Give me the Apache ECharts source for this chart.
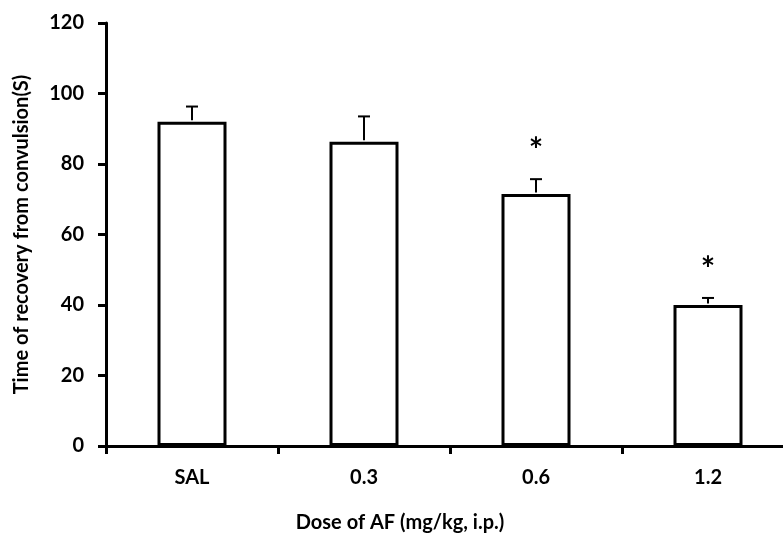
<!DOCTYPE html>
<html>
<head>
<meta charset="utf-8">
<script src="https://cdn.jsdelivr.net/npm/echarts@6/dist/echarts.min.js"></script>
<style>html,body{margin:0;padding:0;background:#fff;overflow:hidden;}#c{width:800px;height:538px;}</style>
</head>
<body>
<div id="c"></div>
<script>
var categories = ['SAL', '0.3', '0.6', '1.2'];
var means = [92.0, 86.3, 71.5, 40.0];
var errors = [4.3, 7.2, 4.2, 2.0];
var signif = ['', '', '*', '*'];
var yTicks = [0, 20, 40, 60, 80, 100, 120];

var FONT = 'Lato';
var chart = echarts.init(document.getElementById('c'), null, {renderer: 'canvas'});
var errData = categories.map(function (c, i) { return [i, means[i], errors[i]]; });

chart.setOption({
  animation: false,
  backgroundColor: '#fff',
  grid: {left: 106, top: 23, right: 6, bottom: 92, containLabel: false},
  xAxis: {
    type: 'category',
    data: categories,
    boundaryGap: true,
    axisLine: {lineStyle: {color: '#000', width: 3}},
    axisTick: {show: true, length: 8, inside: false, lineStyle: {color: '#000', width: 3}},
    axisLabel: {color: '#000', fontFamily: FONT, fontWeight: 'bold', fontSize: 20, margin: 22},
    splitLine: {show: false}
  },
  yAxis: {
    type: 'value',
    min: yTicks[0],
    max: yTicks[yTicks.length - 1],
    interval: yTicks[1] - yTicks[0],
    name: 'Time of recovery from convulsion(S)',
    nameLocation: 'middle',
    nameGap: 74,
    nameTextStyle: {color: '#000', fontFamily: FONT, fontWeight: 'bold', fontSize: 20},
    axisLine: {show: true, lineStyle: {color: '#000', width: 3}},
    axisTick: {show: true, length: 8, inside: false, lineStyle: {color: '#000', width: 3}},
    axisLabel: {color: '#000', fontFamily: FONT, fontWeight: 'bold', fontSize: 20, margin: 22},
    splitLine: {show: false}
  },
  graphic: [{
    type: 'text',
    x: 400, y: 523,
    style: {text: 'Dose of AF (mg/kg, i.p.)', fill: '#000', font: 'bold 20px ' + FONT, textAlign: 'center', textVerticalAlign: 'middle'}
  }],
  series: [{
    type: 'bar',
    data: means,
    barWidth: 69,
    itemStyle: {color: '#fff', borderColor: '#000', borderWidth: 3},
    z: 2
  }, {
    type: 'custom',
    data: errData,
    z: 3,
    renderItem: function (params, api) {
      var x = api.coord([api.value(0), 0])[0];
      var top = api.coord([api.value(0), api.value(1)]);
      var cap = api.coord([api.value(0), api.value(1) + api.value(2)]);
      var children = [
        {type: 'line', shape: {x1: x, y1: top[1] - 1.5, x2: x, y2: cap[1]}, style: {stroke: '#000', lineWidth: 2}},
        {type: 'line', shape: {x1: x - 6, y1: cap[1], x2: x + 6, y2: cap[1]}, style: {stroke: '#000', lineWidth: 2}}
      ];
      var s = signif[params.dataIndex];
      if (s) {
        children.push({type: 'text', style: {text: s, x: x, y: cap[1] - 28, fill: '#000', font: 'bold 34px ' + FONT, textAlign: 'center', textVerticalAlign: 'middle'}});
      }
      return {type: 'group', children: children};
    }
  }]
});
</script>
</body>
</html>
